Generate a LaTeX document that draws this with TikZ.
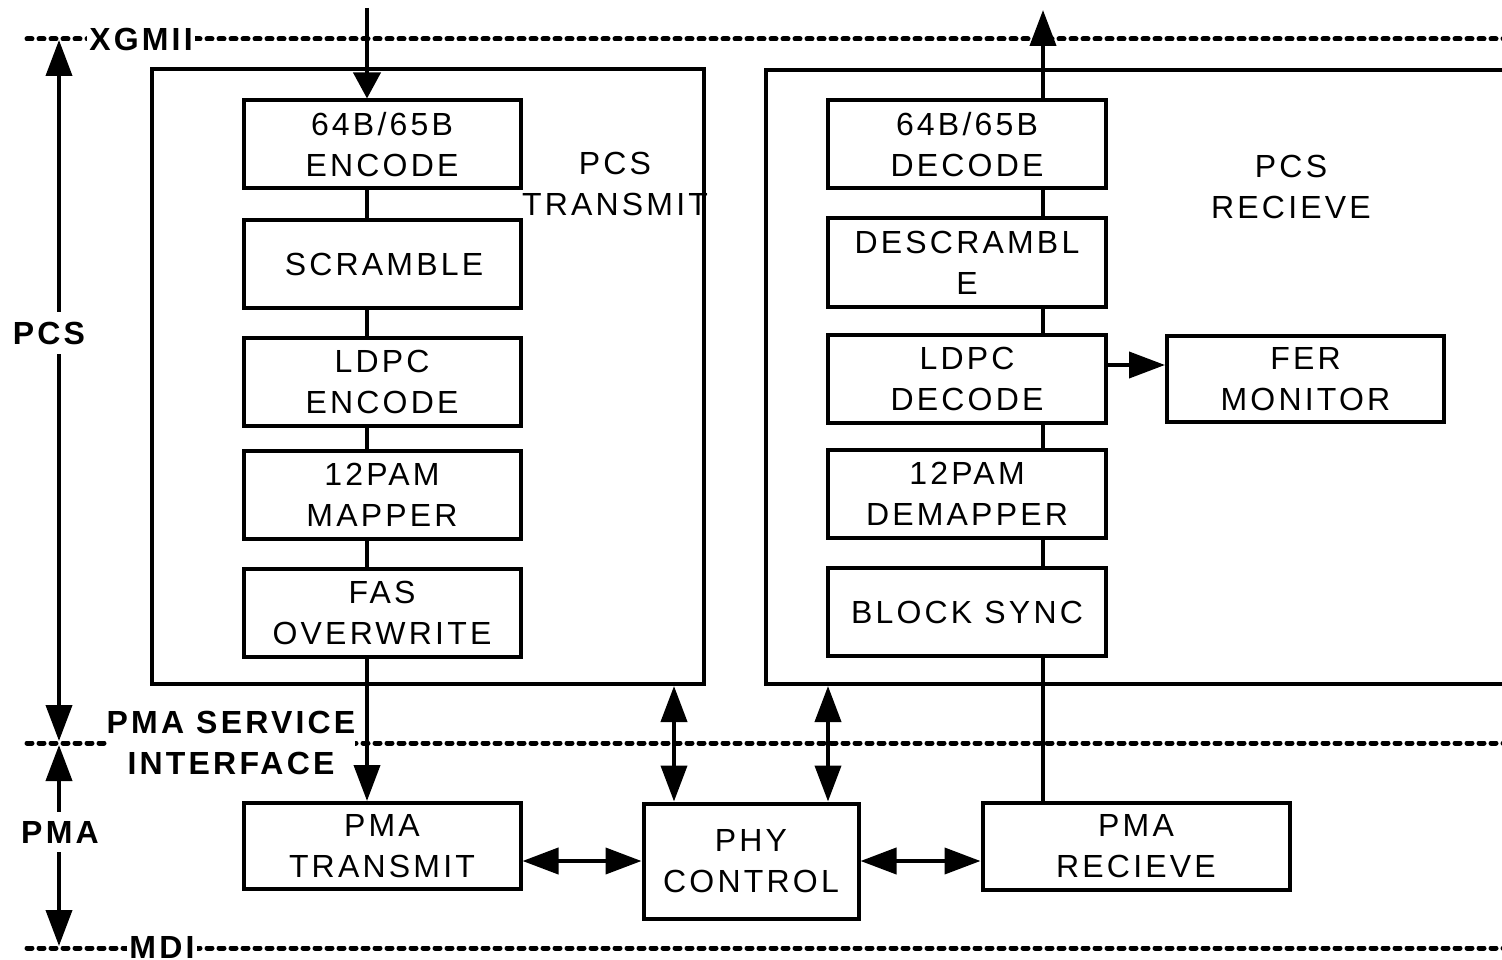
\documentclass[tikz,border=0pt]{standalone}
\usepackage{fontspec}
\setmainfont{Liberation Sans}[LetterSpace=10]
\usetikzlibrary{arrows.meta}
\begin{document}
\begin{tikzpicture}[x=1pt,y=-1pt,
  wire/.style={line width=4pt},
  arr/.style={wire,-{Triangle[length=36pt,width=26pt]}},
  arrS/.style={wire,-{Triangle[length=26pt,width=27pt]}},
  darr/.style={wire,{Triangle[length=36pt,width=26pt]}-{Triangle[length=36pt,width=26pt]}},
  iface/.style={line width=5pt,dash pattern=on 5pt off 7pt,line cap=round},
  blk/.style={draw,line width=4pt,minimum width=277pt,minimum height=88pt,inner sep=0pt,
    align=center,font=\fontsize{32}{41}\selectfont},
  frame/.style={draw,line width=4pt,inner sep=0pt},
  txt/.style={align=center,inner sep=0pt,font=\fontsize{32}{41}\selectfont},
  lab/.style={fill=white,align=center,inner xsep=2pt,inner ysep=9pt,
    font=\bfseries\fontsize{32}{41}\selectfont}]
\useasboundingbox (0,0) rectangle (1502,960);
\clip (0,0) rectangle (1502,960);

% interface levels
\coordinate (xgL) at (27,39);   \coordinate (xgR) at (1515,39);
\coordinate (psL) at (27,743);  \coordinate (psR) at (1515,743);
\coordinate (mdL) at (27,948);  \coordinate (mdR) at (1515,948);
\draw[iface] (xgL) -- (xgR);
\draw[iface] (psL) -- (psR);
\draw[iface] (mdL) -- (mdR);

% layer extents on the left
\coordinate (lA) at (59,40);  \coordinate (lB) at (59,741);
\coordinate (lC) at (59,745); \coordinate (lD) at (59,946);
\draw[darr] (lA) -- (lB);
\draw[darr] (lC) -- (lD);

% level and layer labels
\node[lab,inner ysep=2pt] (xgmii) at (141,39) {XGMII};
\node[lab,inner ysep=1pt,inner xsep=0pt] (psi) at (231,743) {PMA SERVICE\\INTERFACE};
\node[lab,inner ysep=2pt] (mdi) at (162,947) {MDI};
\node[lab,inner ysep=10pt] (pcs) at (49,333) {PCS};
\node[lab] (pma) at (60,832) {PMA};

% PCS containers
\node[frame,minimum width=552pt,minimum height=615pt] (pcstx) at (428,376.5) {};
\node[frame,minimum width=774pt,minimum height=614pt] (pcsrx) at (1153,377) {};
\node[txt] (pcstxlab) at (615,184) {PCS\\TRANSMIT};
\node[txt] (pcsrxlab) at (1291,187) {PCS\\RECIEVE};

% transmit chain
\node[blk] (enc)   at (382,144.5) {64B/65B\\ENCODE};
\node[blk] (scr)   at (382,264)   {\hspace*{4pt}SCRAMBLE};
\node[blk] (ldpce) at (382,381.5) {LDPC\\ENCODE};
\node[blk] (map)   at (382,494.5) {12PAM\\MAPPER};
\node[blk] (fas)   at (382,612.5) {FAS\\OVERWRITE};

% receive chain
\node[blk,minimum width=278pt] (dec)   at (967,144.5) {64B/65B\\DECODE};
\node[blk,minimum width=278pt] (dscr)  at (967,262.5) {DESCRAMBL\\E};
\node[blk,minimum width=278pt] (ldpcd) at (967,379)   {LDPC\\DECODE};
\node[blk,minimum width=278pt] (dmap)  at (967,494)   {12PAM\\DEMAPPER};
\node[blk,minimum width=278pt] (bsync) at (967,612)   {BLOCK SYNC};
\node[blk,minimum height=86pt] (fer)   at (1305.5,379) {FER\\MONITOR};

% PMA blocks
\node[blk,minimum height=86pt] (pmatx) at (382,846) {PMA\\TRANSMIT};
\node[blk,minimum width=215pt,minimum height=115pt] (phy) at (751,861) {PHY\\CONTROL};
\node[blk,minimum width=307pt,minimum height=87pt] (pmarx) at (1136,846) {PMA\\RECIEVE};

% transmit data path
\coordinate (txin) at (367,8);
\draw[arrS] (txin) -- (txin |- enc.north);
\draw[wire] (txin |- enc.south) -- (txin |- scr.north);
\draw[wire] (txin |- scr.south) -- (txin |- ldpce.north);
\draw[wire] (txin |- ldpce.south) -- (txin |- map.north);
\draw[wire] (txin |- map.south) -- (txin |- fas.north);
\draw[arr] (txin |- fas.south) -- (txin |- pmatx.north);

% receive data path
\coordinate (rxout) at (1043,10);
\draw[wire] (rxout |- pmarx.north) -- (rxout |- bsync.south);
\draw[wire] (rxout |- bsync.north) -- (rxout |- dmap.south);
\draw[wire] (rxout |- dmap.north) -- (rxout |- ldpcd.south);
\draw[wire] (rxout |- ldpcd.north) -- (rxout |- dscr.south);
\draw[wire] (rxout |- dscr.north) -- (rxout |- dec.south);
\draw[arr] (rxout |- dec.north) -- (rxout);

% frame error monitoring
\coordinate (fy) at (0,365);
\draw[arr] (ldpcd.east |- fy) -- (fer.west |- fy);

% control paths
\coordinate (cA) at (674,0);
\coordinate (cB) at (828,0);
\draw[darr] (cA |- pcstx.south) -- (cA |- phy.north);
\draw[darr] (cB |- pcsrx.south) -- (cB |- phy.north);
\draw[darr] (phy.west -| pmatx.east) -- (phy.west);
\draw[darr] (phy.east) -- (phy.east -| pmarx.west);
\end{tikzpicture}
\end{document}
